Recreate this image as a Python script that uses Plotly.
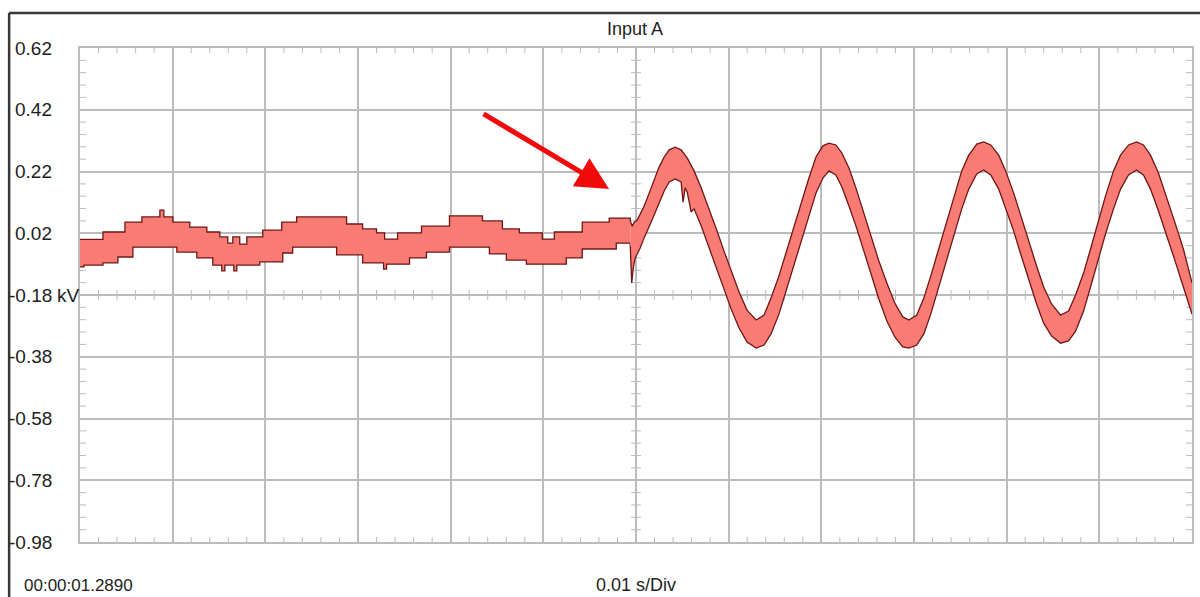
import plotly.graph_objects as go

# ---------------- data (time in ms, voltage in kV) ----------------
t_pre_up = [0.0, 2.48, 4.85, 6.68, 8.62, 9.05, 10.02, 11.85, 13.69, 15.09, 15.95, 16.49,
            17.24, 18.00, 19.72, 21.77, 23.38, 28.77, 30.50, 32.00, 32.87, 34.27, 36.85,
            39.87, 43.43, 45.58, 47.41, 49.89, 51.19, 54.20, 57.11, 59.38]
v_pre_up = [0.000, 0.024, 0.056, 0.073, 0.095, 0.073, 0.056, 0.040, 0.024, 0.008, -0.012, 0.008,
            -0.015, 0.008, 0.030, 0.056, 0.073, 0.050, 0.034, 0.021, 0.001, 0.021, 0.043,
            0.076, 0.060, 0.034, 0.021, 0.001, 0.024, 0.056, 0.069, 0.060]

t_pre_lo = [0.0, 0.43, 2.48, 4.09, 5.71, 10.45, 12.61, 14.33, 15.30, 15.63, 16.60, 16.92,
            19.40, 21.88, 22.95, 27.69, 30.50, 32.76, 33.08, 35.56, 37.39, 39.87, 44.18,
            46.01, 48.17, 52.48, 54.20, 57.87, 59.38]
v_pre_lo = [-0.089, -0.083, -0.076, -0.057, -0.025, -0.041, -0.060, -0.083, -0.102, -0.083, -0.102, -0.083,
            -0.073, -0.044, -0.025, -0.050, -0.076, -0.096, -0.080, -0.060, -0.041, -0.025, -0.047,
            -0.067, -0.080, -0.060, -0.031, -0.012, -0.021]

t_post_up = [59.38, 59.59, 59.81, 60.13, 60.45, 60.88, 61.42, 61.96, 62.50, 63.04,
             63.58, 64.22, 64.87, 65.52, 65.95, 66.27, 67.03, 67.89, 68.75, 69.50,
             70.26, 71.12, 71.98, 72.96, 73.82, 74.57, 75.43, 76.19, 77.05, 77.80,
             78.66, 79.42, 80.17, 80.82, 81.57, 82.22, 82.98, 83.73, 84.59, 85.35,
             86.21, 87.07, 87.93, 88.79, 89.44, 90.30, 91.06, 91.81, 92.67, 93.54,
             94.29, 95.15, 95.91, 96.77, 97.52, 98.28, 99.14, 99.89, 100.76, 101.51,
             102.37, 103.23, 103.99, 104.85, 105.82, 106.68, 107.44, 108.30, 109.05, 109.92,
             110.67, 111.53, 112.29, 113.15, 114.01, 114.76, 115.52, 116.38, 117.24, 118.10,
             119.07, 120.0]
v_post_up = [0.060, 0.043, 0.056, 0.063, 0.082,
             0.108, 0.150, 0.196, 0.235, 0.267,
             0.290, 0.299, 0.290, 0.264, 0.241,
             0.222, 0.167, 0.099, 0.027, -0.038,
             -0.102, -0.170, -0.229, -0.261, -0.245,
             -0.190, -0.118, -0.044, 0.044, 0.118,
             0.199, 0.267, 0.303, 0.312, 0.306,
             0.280, 0.231, 0.167, 0.086, 0.011,
             -0.070, -0.141, -0.206, -0.251, -0.261,
             -0.245, -0.190, -0.118, -0.031, 0.060,
             0.141, 0.222, 0.273, 0.309, 0.316,
             0.306, 0.273, 0.222, 0.150, 0.076,
             -0.005, -0.086, -0.154, -0.209, -0.245,
             -0.232, -0.180, -0.109, -0.031, 0.060,
             0.141, 0.222, 0.273, 0.306, 0.316,
             0.306, 0.273, 0.215, 0.141, 0.060,
             -0.031, -0.141]

t_post_lo = [59.38, 59.54, 59.70, 59.91, 60.13, 60.45, 60.88, 61.42, 61.96, 62.50,
             63.04, 63.58, 64.22, 64.87, 65.08, 65.30, 65.52, 65.95, 66.27, 67.03,
             67.89, 68.75, 69.50, 70.26, 71.12, 71.98, 72.96, 73.82, 74.57, 75.43,
             76.19, 77.05, 77.80, 78.66, 79.42, 80.17, 80.82, 81.57, 82.22, 82.98,
             83.73, 84.59, 85.35, 86.21, 87.07, 87.93, 88.79, 89.44, 90.30, 91.06,
             91.81, 92.67, 93.54, 94.29, 95.15, 95.91, 96.77, 97.52, 98.28, 99.14,
             99.89, 100.76, 101.51, 102.37, 103.23, 103.99, 104.85, 105.82, 106.68, 107.44,
             108.30, 109.05, 109.92, 110.67, 111.53, 112.29, 113.15, 114.01, 114.76, 115.52,
             116.38, 117.24, 118.10, 119.07, 120.0]
v_post_lo = [-0.021, -0.141, -0.094, -0.060, -0.047,
             -0.028, 0.005, 0.040, 0.079, 0.118,
             0.157, 0.186, 0.196, 0.186, 0.121,
             0.167, 0.154, 0.089, 0.099, 0.044,
             -0.025, -0.096, -0.161, -0.225, -0.287,
             -0.332, -0.352, -0.342, -0.306, -0.242,
             -0.167, -0.080, -0.005, 0.076, 0.150,
             0.199, 0.222, 0.209, 0.170, 0.108,
             0.044, -0.038, -0.112, -0.193, -0.264,
             -0.316, -0.348, -0.352, -0.342, -0.306,
             -0.242, -0.154, -0.063, 0.018, 0.099,
             0.163, 0.212, 0.225, 0.209, 0.163,
             0.099, 0.027, -0.047, -0.128, -0.209,
             -0.271, -0.313, -0.336, -0.329, -0.297,
             -0.232, -0.154, -0.063, 0.018, 0.099,
             0.163, 0.209, 0.225, 0.209, 0.163,
             0.092, 0.018, -0.063, -0.154, -0.242]

y_tick_vals = [0.62, 0.42, 0.22, 0.02, -0.18, -0.38, -0.58, -0.78, -0.98]
y_tick_text = ["0.62", "0.42", "0.22", "0.02", "-0.18", "-0.38", "-0.58", "-0.78", "-0.98"]
unit_label = "kV"
title_text = "Input A"
time_label = "00:00:01.2890"
div_label = "0.01 s/Div"

X_MIN, X_MAX = 0.0, 120.0
Y_MIN, Y_MAX = -0.98, 0.62
X_DIV, Y_DIV = 10.0, 0.2
X_CENTER, Y_CENTER = 60.0, -0.18

# ---------------- style ----------------
FILL = "rgb(249,124,116)"
EDGE = "rgb(110,22,22)"
GRID = "rgb(188,188,188)"
TXT = "#1e1e1e"
FONT = "Liberation Sans, Arial, sans-serif"

W, H = 1200, 597
L, R, T, B = 80, 6, 48, 55
PW, PH = W - L - R, H - T - B


def px_x(p):
    return (p - L) / PW


def px_y(q):
    return (H - B - q) / PH


fig = go.Figure()
line_style = dict(color=EDGE, width=1.3)
fig.add_trace(go.Scatter(x=t_pre_lo, y=v_pre_lo, mode="lines", line=dict(**line_style, shape="hv"),
                         hoverinfo="skip", showlegend=False))
fig.add_trace(go.Scatter(x=t_pre_up, y=v_pre_up, mode="lines", line=dict(**line_style, shape="hv"),
                         fill="tonexty", fillcolor=FILL, hoverinfo="skip", showlegend=False))
fig.add_trace(go.Scatter(x=t_post_lo, y=v_post_lo, mode="lines", line=dict(**line_style),
                         hoverinfo="skip", showlegend=False))
fig.add_trace(go.Scatter(x=t_post_up, y=v_post_up, mode="lines", line=dict(**line_style),
                         fill="tonexty", fillcolor=FILL, hoverinfo="skip", showlegend=False))

# ---------------- minor ticks (edges and centre cross) ----------------
shapes = []
tick_line = dict(color=GRID, width=1)
nx = int(round((X_MAX - X_MIN) / (X_DIV / 5)))
ny = int(round((Y_MAX - Y_MIN) / (Y_DIV / 5)))
for i in range(nx + 1):
    if i % 5 == 0:
        continue
    xv = X_MIN + i * X_DIV / 5
    for anchor, y0, y1 in [(Y_MAX, 0, -5), (Y_MIN, 0, 5), (Y_CENTER, -5, 5)]:
        shapes.append(dict(type="line", xref="x", yref="y", x0=xv, x1=xv,
                           ysizemode="pixel", yanchor=anchor, y0=y0, y1=y1,
                           line=tick_line, layer="below"))
for j in range(ny + 1):
    if j % 5 == 0:
        continue
    yv = Y_MIN + j * Y_DIV / 5
    for anchor, x0, x1 in [(X_MIN, 0, 6), (X_MAX, 0, -6), (X_CENTER, -5, 5)]:
        shapes.append(dict(type="line", xref="x", yref="y", y0=yv, y1=yv,
                           xsizemode="pixel", xanchor=anchor, x0=x0, x1=x1,
                           line=tick_line, layer="below"))

# outer window frame (top and left)
frame = dict(color="rgb(55,55,55)", width=2.5)
shapes.append(dict(type="line", xref="paper", yref="paper", x0=px_x(9), x1=px_x(1202),
                   y0=px_y(13), y1=px_y(13), line=frame))
shapes.append(dict(type="line", xref="paper", yref="paper", x0=px_x(9), x1=px_x(9),
                   y0=px_y(13), y1=px_y(600), line=frame))

# ---------------- text ----------------
ann = []
for v, s in zip(y_tick_vals, y_tick_text):
    ann.append(dict(x=px_x(54), y=v, xref="paper", yref="y", text=s, showarrow=False,
                    xanchor="right", yanchor="middle", font=dict(family=FONT, size=19, color=TXT)))
ann.append(dict(x=px_x(55), y=Y_CENTER, xref="paper", yref="y", text=unit_label, showarrow=False,
                xanchor="left", yanchor="middle", font=dict(family=FONT, size=19, color=TXT)))
ann.append(dict(x=px_x(636), y=px_y(29), xref="paper", yref="paper", text=title_text, showarrow=False,
                xanchor="center", yanchor="middle", font=dict(family=FONT, size=18, color=TXT)))
ann.append(dict(x=px_x(22), y=px_y(585), xref="paper", yref="paper", text=time_label, showarrow=False,
                xanchor="left", yanchor="middle", font=dict(family=FONT, size=17, color=TXT)))
ann.append(dict(x=px_x(637), y=px_y(585), xref="paper", yref="paper", text=div_label, showarrow=False,
                xanchor="center", yanchor="middle", font=dict(family=FONT, size=18, color=TXT)))
# red arrow
ann.append(dict(x=px_x(610), y=px_y(189), xref="paper", yref="paper", text="", showarrow=True,
                ax=-127, ay=-76, arrowcolor="rgb(240,10,10)", arrowwidth=5, arrowhead=2,
                arrowsize=1.3, standoff=0))

axis_common = dict(showgrid=True, gridcolor=GRID, gridwidth=1.5, zeroline=False,
                   showticklabels=False, ticks="", showline=True, linecolor=GRID,
                   linewidth=1.5, mirror=True, fixedrange=True)

fig.update_layout(
    width=W, height=H,
    margin=dict(l=L, r=R, t=T, b=B, pad=0),
    paper_bgcolor="white", plot_bgcolor="white",
    xaxis=dict(range=[X_MIN, X_MAX], dtick=X_DIV, tick0=X_MIN, **axis_common),
    yaxis=dict(range=[Y_MIN, Y_MAX], dtick=Y_DIV, tick0=Y_MIN, **axis_common),
    shapes=shapes, annotations=ann, showlegend=False,
)

fig.write_html("out.html", config={"displayModeBar": False})
